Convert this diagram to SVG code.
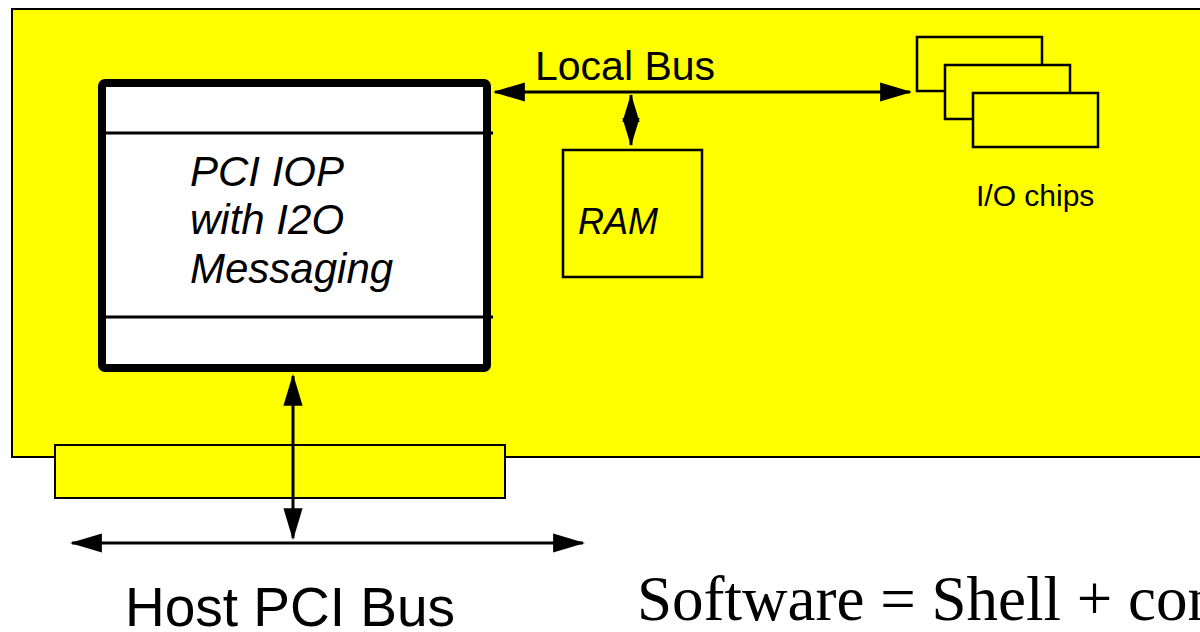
<svg xmlns="http://www.w3.org/2000/svg" width="1200" height="632" viewBox="0 0 1200 632">
  <style>
    .board { fill: #ffff00; stroke: #000; stroke-width: 2; }
    .part { fill: #ffff00; stroke: #000; stroke-width: 2.5; }
    .wire { stroke: #000; stroke-width: 3; fill: none; }
    .sans { font-family: "Liberation Sans", Arial, sans-serif; fill: #000; }
    .ital { font-style: italic; }
    .serif { font-family: "Liberation Serif", "Times New Roman", serif; fill: #000; }
  </style>
  <defs>
    <marker id="head" markerUnits="userSpaceOnUse" markerWidth="32" markerHeight="20" viewBox="0 0 30 18" refX="28" refY="9" orient="auto-start-reverse">
      <path d="M0,0 L30,9 L0,18 z" fill="#000"/>
    </marker>
    <marker id="headSmall" markerUnits="userSpaceOnUse" markerWidth="28" markerHeight="18" viewBox="0 0 26 16" refX="25" refY="8" orient="auto-start-reverse">
      <path d="M0,0 L26,8 L0,16 z" fill="#000"/>
    </marker>
  </defs>

  <!-- adapter board -->
  <g id="board">
    <rect class="board" x="12" y="9" width="1200" height="448"/>
  </g>

  <!-- edge connector fingers -->
  <g id="edge-connector">
    <rect class="board" x="55" y="445" width="450" height="53"/>
  </g>

  <!-- buses and links -->
  <g id="connectors">
    <line class="wire" x1="495" y1="92" x2="910" y2="92" marker-start="url(#head)" marker-end="url(#head)"/>
    <line class="wire" x1="631" y1="95" x2="631" y2="120" stroke-width="2" marker-start="url(#headSmall)"/>
    <line class="wire" x1="631" y1="120" x2="631" y2="145" stroke-width="2" marker-end="url(#headSmall)"/>
    <line class="wire" x1="293" y1="376" x2="293" y2="538" marker-start="url(#head)" marker-end="url(#head)"/>
    <line class="wire" x1="72" y1="543" x2="583" y2="543" marker-start="url(#head)" marker-end="url(#head)"/>
  </g>

  <!-- I/O processor -->
  <g id="iop">
    <rect x="102" y="83" width="385" height="285" rx="3" fill="#fff" stroke="#000" stroke-width="8"/>
    <line class="wire" x1="106" y1="133" x2="493" y2="133"/>
    <line class="wire" x1="106" y1="317" x2="493" y2="317"/>
    <text class="sans ital" font-size="42" x="190" y="186">PCI IOP</text>
    <text class="sans ital" font-size="42" x="190" y="234">with I2O</text>
    <text class="sans ital" font-size="42" x="190" y="283">Messaging</text>
  </g>

  <!-- local memory -->
  <g id="ram">
    <rect class="part" x="563" y="150" width="139" height="127"/>
    <text class="sans ital" font-size="36" x="578" y="234">RAM</text>
  </g>

  <!-- peripheral chips -->
  <g id="io-chips">
    <rect class="part" x="917" y="37" width="125" height="54"/>
    <rect class="part" x="945" y="65" width="125" height="54"/>
    <rect class="part" x="973" y="93" width="125" height="54"/>
    <text class="sans" font-size="30" x="976" y="206">I/O chips</text>
  </g>

  <g id="labels">
    <text class="sans" font-size="41" x="535" y="80">Local Bus</text>
    <text class="sans" font-size="55" x="125" y="626">Host PCI Bus</text>
    <text class="serif" font-size="63" x="637" y="620">Software = Shell + con</text>
  </g>
</svg>
